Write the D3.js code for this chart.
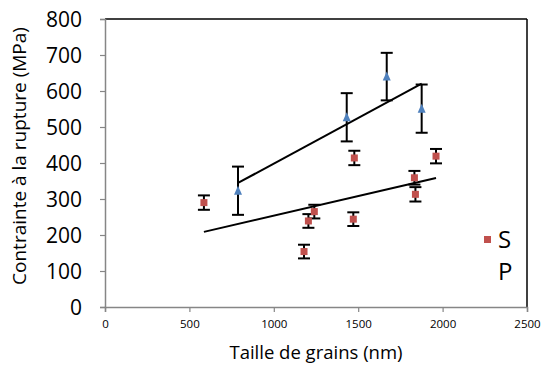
<!DOCTYPE html>
<html>
<head>
<meta charset="utf-8">
<script src="https://cdn.jsdelivr.net/npm/d3@7"></script>
<style>
  html, body { margin: 0; padding: 0; background: #fff; }
  svg { display: block; font-family: "Open Sans", sans-serif; }
</style>
</head>
<body>
<svg id="chart" width="552" height="366"></svg>
<script>
// Data
const seriesSx   = [586, 1179, 1205, 1240, 1471, 1477, 1833, 1839, 1961];
const seriesSy   = [290, 154, 239, 265, 244, 414, 359, 313, 419];
const seriesSerr = [20, 19, 19, 19, 19, 20, 19, 20, 20];
const seriesPx   = [788, 1432, 1669, 1876];
const seriesPy   = [323, 527, 640, 551];
const seriesPerr = [67, 67, 66, 67];
const xTicks = [0, 500, 1000, 1500, 2000, 2500];
const yTicks = [0, 100, 200, 300, 400, 500, 600, 700, 800];
const legendLabels = ["S", "P"];
const xTitle = "Taille de grains (nm)";
const yTitle = "Contrainte à la rupture (MPa)";

const svg = d3.select("#chart");
const m = {left: 105, right: 527, top: 19, bottom: 307};
const x = d3.scaleLinear().domain([0, 2500]).range([m.left, m.right]);
const y = d3.scaleLinear().domain([0, 800]).range([m.bottom, m.top]);
const axisGray = "#868686";
const redC = "#c0504d";
const blueC = "#4f81bd";

// plot border (top/right black)
svg.append("line").attr("x1", m.left).attr("x2", m.right).attr("y1", m.top).attr("y2", m.top)
  .attr("stroke", "#000").attr("stroke-width", 1.5);
svg.append("line").attr("x1", m.right).attr("x2", m.right).attr("y1", m.top).attr("y2", m.bottom)
  .attr("stroke", "#000").attr("stroke-width", 1.5);

// Axes
const yAxis = d3.axisLeft(y).tickValues(yTicks).tickSize(5).tickPadding(7).tickFormat(d3.format("d"));
const gy = svg.append("g").attr("transform", `translate(${m.left},0)`).call(yAxis);
gy.select(".domain").attr("stroke", axisGray).attr("stroke-width", 1.5);
gy.selectAll(".tick line").attr("stroke", axisGray).attr("stroke-width", 1.2);
gy.selectAll(".tick text").attr("fill", "#000").style("font-size", "21px").attr("x", -23).attr("dy", "0.36em")
  .style("font-family", "'Open Sans', sans-serif");

const xAxis = d3.axisBottom(x).tickValues(xTicks).tickSize(5).tickPadding(7).tickFormat(d3.format("d"));
const gx = svg.append("g").attr("transform", `translate(0,${m.bottom})`).call(xAxis);
gx.select(".domain").attr("stroke", axisGray).attr("stroke-width", 1.5);
gx.selectAll(".tick line").attr("stroke", axisGray).attr("stroke-width", 1.2);
gx.selectAll(".tick text").attr("fill", "#000").style("font-size", "11.5px").attr("y", 13)
  .style("font-family", "'Open Sans', sans-serif");

// Titles
svg.append("text").attr("x", 316).attr("y", 359).attr("text-anchor", "middle")
  .style("font-size", "18.5px").text(xTitle);
svg.append("text").attr("transform", "translate(26,156) rotate(-90)").attr("text-anchor", "middle")
  .style("font-size", "19px").text(yTitle);

// Trendlines via least squares
function trend(xs, ys) {
  const mx = d3.mean(xs), my = d3.mean(ys);
  let sxy = 0, sxx = 0;
  xs.forEach((v, i) => { sxy += (v - mx) * (ys[i] - my); sxx += (v - mx) * (v - mx); });
  const b = sxy / sxx, a = my - b * mx;
  const x0 = d3.min(xs), x1 = d3.max(xs);
  return [[x0, a + b * x0], [x1, a + b * x1]];
}
const line = d3.line().x(d => x(d[0])).y(d => y(d[1]));
svg.append("path").attr("d", line(trend(seriesPx, seriesPy))).attr("stroke", "#000").attr("stroke-width", 2).attr("fill", "none");
svg.append("path").attr("d", line(trend(seriesSx, seriesSy))).attr("stroke", "#000").attr("stroke-width", 2).attr("fill", "none");

// Error bars
function errBars(xs, ys, es) {
  const g = svg.append("g").attr("stroke", "#000").attr("stroke-width", 2);
  xs.forEach((v, i) => {
    const cx = x(v), t = y(ys[i] + es[i]), b = y(ys[i] - es[i]);
    g.append("line").attr("x1", cx).attr("x2", cx).attr("y1", t).attr("y2", b);
    g.append("line").attr("x1", cx - 6).attr("x2", cx + 6).attr("y1", t).attr("y2", t);
    g.append("line").attr("x1", cx - 6).attr("x2", cx + 6).attr("y1", b).attr("y2", b);
  });
}
errBars(seriesSx, seriesSy, seriesSerr);
errBars(seriesPx, seriesPy, seriesPerr);

// Markers
svg.append("g").selectAll("rect").data(seriesSx).join("rect")
  .attr("x", (d) => x(d) - 3.5).attr("y", (d, i) => y(seriesSy[i]) - 3.5)
  .attr("width", 7).attr("height", 7).attr("fill", redC);
svg.append("g").selectAll("path").data(seriesPx).join("path")
  .attr("d", (d, i) => { const cx = x(d), cy = y(seriesPy[i]); return `M${cx},${cy-5}L${cx+4},${cy+4}L${cx-4},${cy+4}Z`; })
  .attr("fill", blueC);

// Legend
svg.append("rect").attr("x", 484).attr("y", 236).attr("width", 7).attr("height", 7).attr("fill", redC);
svg.append("text").attr("x", 498).attr("y", 248).style("font-size", "24px").text(legendLabels[0]);
svg.append("text").attr("x", 498).attr("y", 280).style("font-size", "24px").text(legendLabels[1]);
</script>
</body>
</html>
